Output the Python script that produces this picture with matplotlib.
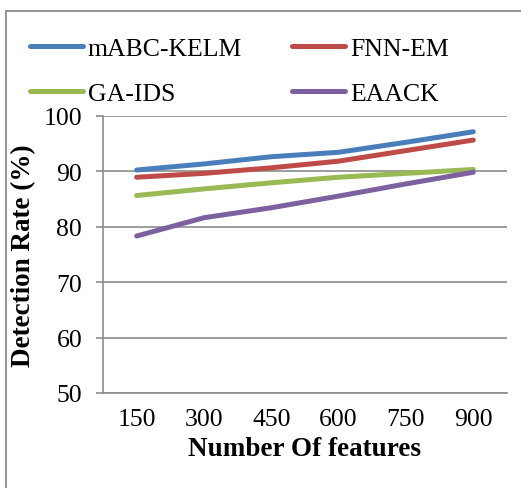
import matplotlib
matplotlib.use("Agg")
import matplotlib.pyplot as plt
import matplotlib.patches as patches

# ---- data ----
features = ["150", "300", "450", "600", "750", "900"]
mabc_kelm = [90.2, 91.3, 92.6, 93.4, 95.2, 97.1]
fnn_em = [88.9, 89.6, 90.6, 91.8, 93.7, 95.6]
ga_ids = [85.6, 86.8, 87.9, 88.9, 89.6, 90.3]
eaack = [78.3, 81.6, 83.4, 85.5, 87.7, 89.8]

series = [
    ("mABC-KELM", mabc_kelm, "#4A7EBB"),
    ("FNN-EM", fnn_em, "#BE4B48"),
    ("GA-IDS", ga_ids, "#98B954"),
    ("EAACK", eaack, "#7D60A0"),
]

plt.rcParams["font.family"] = ["Liberation Serif", "DejaVu Serif"]
FS = 18.5
FS_LAB = 19.5
GRID = "#8c8c8c"

fig = plt.figure(figsize=(5.21, 4.89), dpi=100)
ax = fig.add_axes([0.1977, 0.1943, 0.7753, 0.5671])

x = range(len(features))
handles = {}
for name, vals, col in series:
    handles[name], = ax.plot(x, vals, color=col, lw=3.6, label=name,
                             solid_capstyle="round")

ax.set_xlim(-0.5, len(features) - 0.5)
ax.set_ylim(50, 100)
ax.set_yticks(range(50, 101, 10))
ax.set_xticks(list(x))
ax.set_xticklabels(features)
ax.grid(axis="y", color=GRID, lw=1.2)
ax.set_axisbelow(True)

for s in ("top", "right"):
    ax.spines[s].set_visible(False)
for s in ("left", "bottom"):
    ax.spines[s].set_color(GRID)
    ax.spines[s].set_linewidth(1.2)

ax.tick_params(axis="y", length=5, color=GRID, width=1.2, labelsize=FS, pad=10)
ax.tick_params(axis="x", length=0, labelsize=FS, pad=11)

ax.set_xlabel("Number Of features", fontsize=FS_LAB, fontweight="bold", labelpad=4)
ax.set_ylabel("Detection Rate (%)", fontsize=FS_LAB, fontweight="bold", labelpad=5)

# legend filled row by row (matplotlib fills column-wise)
order = ["mABC-KELM", "GA-IDS", "FNN-EM", "EAACK"]
fig.legend([handles[n] for n in order], order,
           loc="upper left", bbox_to_anchor=(0.0576, 0.922), ncol=2,
           frameon=False, fontsize=FS, borderpad=0, borderaxespad=0,
           handlelength=2.05, handletextpad=0.2, labelspacing=0.85,
           columnspacing=1.95)

# outer chart border (cut by the image edges on the right and bottom)
fig.add_artist(patches.Rectangle((0.0115, -0.1), 1.2, 0.9755 + 0.1,
                                 transform=fig.transFigure, fill=False,
                                 edgecolor="#8a8a8a", lw=1.3))

plt.savefig("out.png", dpi=100)
